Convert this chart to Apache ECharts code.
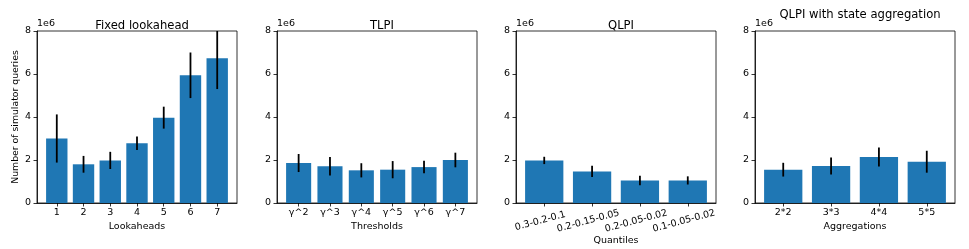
<!DOCTYPE html>
<html>
<head>
<meta charset="utf-8">
<script src="https://cdn.jsdelivr.net/npm/echarts@6/dist/echarts.min.js"></script>
<style>html,body{margin:0;padding:0;background:#fff}#c{width:969px;height:249px}</style>
</head>
<body>
<div id="c"></div>
<script>
// ---- data (values in units of 1e6) ----
const lookaheads = ['1', '2', '3', '4', '5', '6', '7'];
const fixedMean = [3.0, 1.8, 1.98, 2.78, 3.97, 5.94, 6.73];
const fixedErr = [1.12, 0.39, 0.40, 0.31, 0.51, 1.06, 1.43];

const thresholds = ['γ^2', 'γ^3', 'γ^4', 'γ^5', 'γ^6', 'γ^7'];
const tlpiMean = [1.86, 1.71, 1.52, 1.55, 1.67, 2.0];
const tlpiErr = [0.42, 0.43, 0.33, 0.40, 0.29, 0.34];

const quantiles = ['0.3-0.2-0.1', '0.2-0.15-0.05', '0.2-0.05-0.02', '0.1-0.05-0.02'];
const qlpiMean = [1.98, 1.47, 1.05, 1.05];
const qlpiErr = [0.17, 0.26, 0.22, 0.19];

const aggregations = ['2*2', '3*3', '4*4', '5*5'];
const aggMean = [1.55, 1.72, 2.14, 1.92];
const aggErr = [0.32, 0.40, 0.44, 0.51];

const yTicks = [0, 2, 4, 6, 8];

// ---- layout ----
const FONT = 'DejaVu Sans';
const FS = 9.5;
const panels = [
  {title: 'Fixed lookahead', cats: lookaheads, mean: fixedMean, err: fixedErr, xname: 'Lookaheads', left: 37, titleTop: 15, rotate: 0, nameGap: 19},
  {title: 'TLPI', cats: thresholds, mean: tlpiMean, err: tlpiErr, xname: 'Thresholds', left: 277, titleTop: 15, rotate: 0, nameGap: 19},
  {title: 'QLPI', cats: quantiles, mean: qlpiMean, err: qlpiErr, xname: 'Quantiles', left: 516, titleTop: 15, rotate: 15, nameGap: 33},
  {title: 'QLPI with state aggregation', cats: aggregations, mean: aggMean, err: aggErr, xname: 'Aggregations', left: 755, titleTop: 4, rotate: 0, nameGap: 19}
];
const W = 200, TOP = 31, BOTTOM = 46;

const grids = [], xAxes = [], yAxes = [], series = [], titles = [];
panels.forEach((p, i) => {
  const n = p.cats.length;
  const span = (n - 1) + 0.8;
  const marg = 0.05 * span;
  grids.push({left: p.left, width: W, top: TOP, bottom: BOTTOM, show: true, borderColor: '#000', borderWidth: 0.8,
    backgroundColor: 'transparent', containLabel: false, outerBoundsMode: 'none'});
  const idx = p.cats.map((_, k) => k);
  xAxes.push({
    type: 'value', gridIndex: i, min: -0.4 - marg, max: (n - 1) + 0.4 + marg,
    position: 'bottom',
    splitLine: {show: false},
    axisLine: {show: true, onZero: false, lineStyle: {color: '#000', width: 0.8}},
    axisTick: {show: true, length: 3.5, customValues: idx, lineStyle: {color: '#000', width: 0.8}},
    axisLabel: Object.assign({
      customValues: idx, color: '#000', fontFamily: FONT, fontSize: FS, margin: 5,
      formatter: v => p.cats[Math.round(v)]
    }, p.rotate ? {rotate: p.rotate, align: 'center', verticalAlign: 'middle', margin: 17, padding: [0, 8, 0, 0]} : {}),
    name: p.xname, nameLocation: 'middle', nameGap: p.nameGap, nameMoveOverlap: false,
    nameTextStyle: {color: '#000', fontFamily: FONT, fontSize: FS}
  });
  yAxes.push({
    type: 'value', gridIndex: i, min: 0, max: 8, interval: 2, position: 'left',
    splitLine: {show: false},
    axisLine: {show: true, onZero: false, lineStyle: {color: '#000', width: 0.8}},
    axisTick: {show: true, length: 3.5, lineStyle: {color: '#000', width: 0.8}},
    axisLabel: {color: '#000', fontFamily: FONT, fontSize: FS, margin: 6},
    name: '1e6', nameLocation: 'end', nameGap: 2,
    nameTextStyle: {color: '#000', fontFamily: FONT, fontSize: FS, align: 'left', verticalAlign: 'bottom'}
  });
  titles.push({
    text: p.title, left: p.left + W / 2, top: p.titleTop, textAlign: 'center',
    textStyle: {color: '#000', fontFamily: FONT, fontSize: 11.6, fontWeight: 'normal'}
  });
  const data = p.mean.map((v, k) => [k, v, p.err[k]]);
  series.push({
    type: 'custom', xAxisIndex: i, yAxisIndex: i, clip: true, data: data,
    renderItem: (params, api) => {
      const x = api.value(0), v = api.value(1);
      const a = api.coord([x - 0.4, v]);
      const b = api.coord([x + 0.4, 0]);
      return {type: 'rect', shape: {x: a[0], y: a[1], width: b[0] - a[0], height: b[1] - a[1]},
        style: {fill: '#1f77b4'}};
    }
  });
  series.push({
    type: 'custom', xAxisIndex: i, yAxisIndex: i, clip: true, data: data, z: 3,
    renderItem: (params, api) => {
      const x = api.value(0), v = api.value(1), e = api.value(2);
      const a = api.coord([x, v + e]);
      const b = api.coord([x, v - e]);
      return {type: 'line', shape: {x1: a[0], y1: a[1], x2: b[0], y2: b[1]},
        style: {stroke: '#000', lineWidth: 1.8}};
    }
  });
});

// extra y axis on first panel carrying the y-axis label
yAxes.push({
  type: 'value', gridIndex: 0, min: 0, max: 8, interval: 2, position: 'left', offset: 0,
  axisLine: {show: false, onZero: false}, axisTick: {show: false}, axisLabel: {show: false}, splitLine: {show: false},
  name: 'Number of simulator queries', nameLocation: 'middle', nameGap: 17,
  nameTextStyle: {color: '#000', fontFamily: FONT, fontSize: 9.3}
});

const chart = echarts.init(document.getElementById('c'), null, {renderer: 'canvas'});
chart.setOption({
  animation: false,
  backgroundColor: '#fff',
  title: titles,
  grid: grids,
  xAxis: xAxes,
  yAxis: yAxes,
  series: series
});
</script>
</body>
</html>
